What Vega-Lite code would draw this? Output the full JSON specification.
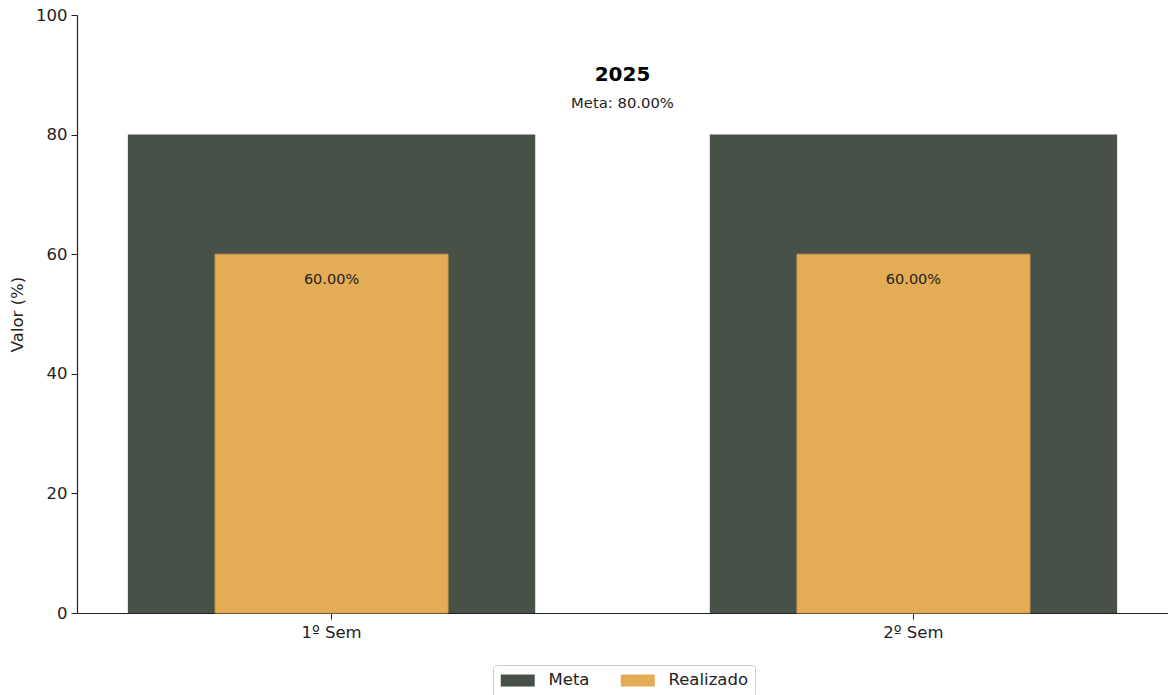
{
  "$schema": "https://vega.github.io/schema/vega-lite/v6.json",
  "width": 1091,
  "height": 598,
  "autosize": {"type": "none"},
  "padding": {"left": 77, "top": 15, "right": 0, "bottom": 82},
  "background": "white",
  "config": {
    "view": {"stroke": null},
    "font": "DejaVu Sans",
    "axis": {"labelFont": "DejaVu Sans", "titleFont": "DejaVu Sans", "domainColor": "#222", "tickColor": "#222", "labelColor": "#222", "titleColor": "#222", "grid": false}
  },
  "title": {
    "text": "2025",
    "subtitle": "Meta: 80.00%",
    "anchor": "middle",
    "frame": "group",
    "offset": -104,
    "fontSize": 20,
    "fontWeight": "bold",
    "color": "#000",
    "subtitleFontSize": 14.8,
    "subtitleColor": "#222",
    "subtitlePadding": 11,
    "font": "DejaVu Sans",
    "subtitleFont": "DejaVu Sans"
  },
  "data": {
    "values": [
      {"sem": "1º Sem", "serie": "Meta", "valor": 80},
      {"sem": "1º Sem", "serie": "Realizado", "valor": 60},
      {"sem": "2º Sem", "serie": "Meta", "valor": 80},
      {"sem": "2º Sem", "serie": "Realizado", "valor": 60}
    ]
  },
  "encoding": {
    "x": {
      "field": "sem",
      "type": "nominal",
      "sort": ["1º Sem", "2º Sem"],
      "scale": {"paddingInner": 0.3, "paddingOuter": 0.0874},
      "axis": {"title": null, "labelAngle": 0, "labelFontSize": 16.5, "tickSize": 6, "labelPadding": 5, "domainWidth": 1.2}
    },
    "y": {
      "field": "valor",
      "type": "quantitative",
      "scale": {"domain": [0, 100], "nice": false},
      "axis": {"title": "Valor (%)", "values": [0, 20, 40, 60, 80, 100], "labelFontSize": 16.5, "titleFontSize": 16.5, "titleFontWeight": "normal", "tickSize": 6, "labelPadding": 4, "titlePadding": 10, "domainWidth": 1.2}
    },
    "color": {
      "field": "serie",
      "type": "nominal",
      "scale": {"domain": ["Meta", "Realizado"], "range": ["#475148", "#E4AC55"]},
      "legend": {
        "title": null,
        "orient": "none",
        "direction": "horizontal",
        "legendX": 416,
        "legendY": 650,
        "padding": 7,
        "strokeColor": "#cccccc",
        "cornerRadius": 3,
        "labelFontSize": 16.5,
        "labelColor": "#222",
        "labelFont": "DejaVu Sans",
        "symbolType": "M-1,-0.8H3.53V0.8H-1Z",
        "symbolSize": 225,
        "symbolStrokeWidth": 0,
        "symbolOpacity": 1,
        "columnPadding": 30,
        "labelOffset": 32
      }
    }
  },
  "layer": [
    {
      "transform": [{"filter": "datum.serie === 'Meta'"}],
      "mark": {"type": "bar", "width": {"band": 1}, "opacity": 1}
    },
    {
      "transform": [{"filter": "datum.serie === 'Realizado'"}],
      "mark": {"type": "bar", "width": {"band": 0.572}, "opacity": 1, "stroke": "#c9964c", "strokeWidth": 1}
    },
    {
      "transform": [
        {"filter": "datum.serie === 'Realizado'"},
        {"calculate": "format(datum.valor, '.2f') + '%'", "as": "rotulo"}
      ],
      "mark": {"type": "text", "dy": 26, "baseline": "middle", "fontSize": 14.5, "font": "DejaVu Sans"},
      "encoding": {
        "text": {"field": "rotulo", "type": "nominal"},
        "color": {"value": "#222"}
      }
    }
  ]
}
